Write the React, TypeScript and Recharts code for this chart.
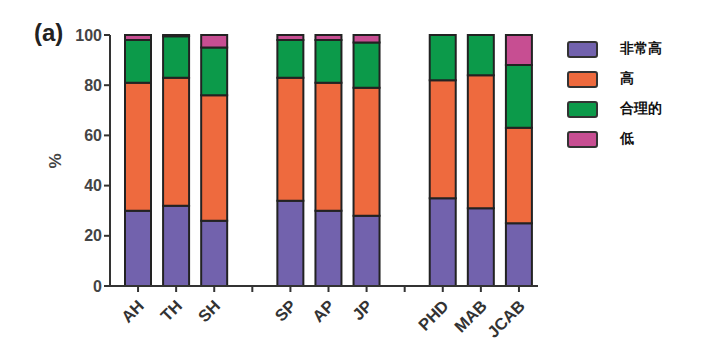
import React from 'react';
import { BarChart, Bar, XAxis, YAxis } from 'recharts';

const categories = ['AH', 'TH', 'SH', '', 'SP', 'AP', 'JP', ' ', 'PHD', 'MAB', 'JCAB'];
const veryHigh = [30, 32, 26, null, 34, 30, 28, null, 35, 31, 25];
const high = [51, 51, 50, null, 49, 51, 51, null, 47, 53, 38];
const reasonable = [17, 16.5, 19, null, 15, 17, 18, null, 18, 16, 25];
const low = [2, 0.5, 5, null, 2, 2, 3, null, 0, 0, 12];
const seriesNames = ['非常高', '高', '合理的', '低'];
const seriesColors = ['#7262ad', '#ee6a3e', '#0c9a4a', '#c74e92'];
const yTicks = [0, 20, 40, 60, 80, 100];

const data = categories.map((c, i) => ({
  name: c,
  s0: veryHigh[i],
  s1: high[i],
  s2: reasonable[i],
  s3: low[i],
}));

const font = 'Arial, "Liberation Sans", sans-serif';

const XTick = (props: any) => {
  const { x, y, payload } = props;
  return (
    <text
      x={x + 7}
      y={y + 13}
      textAnchor="end"
      transform={`rotate(-45, ${x + 7}, ${y + 13})`}
      fontSize={16.5}
      fontWeight="bold"
      fontFamily={font}
      fill="#333"
    >
      {payload.value.trim()}
    </text>
  );
};

const LegendBox = () => (
  <div style={{ position: 'absolute', left: 567, top: 34, fontFamily: font }}>
    {seriesNames.map((n, i) => (
      <div key={n} style={{ display: 'flex', alignItems: 'center', height: 30 }}>
        <div
          style={{
            width: 27,
            height: 13,
            background: seriesColors[i],
            border: '2.5px solid #333',
            borderRadius: 3,
            marginRight: 22,
          }}
        />
        <span style={{ fontSize: 14, fontWeight: 'bold', color: '#111' }}>{n}</span>
      </div>
    ))}
  </div>
);

export default function App() {
  return (
    <div style={{ position: 'fixed', left: 0, top: 0, width: 717, height: 362, background: '#fff' }}>
      <BarChart
        width={717}
        height={362}
        data={data}
        margin={{ top: 35, right: 179, bottom: 0, left: 0 }}
        barSize={26}
      >
        <XAxis
          dataKey="name"
          height={76}
          padding={{ left: 9, right: 0 }}
          interval={0}
          tick={<XTick />}
          tickLine={{ stroke: '#333', strokeWidth: 2 }}
          tickSize={6}
          axisLine={{ stroke: '#333', strokeWidth: 2 }}
        />
        <YAxis
          width={110}
          domain={[0, 100]}
          ticks={yTicks}
          interval={0}
          tickSize={6}
          tickLine={{ stroke: '#333', strokeWidth: 2 }}
          axisLine={{ stroke: '#333', strokeWidth: 2 }}
          tick={{ fontSize: 16, fontWeight: 'bold', fill: '#444', fontFamily: font }}
        />
        {['s0', 's1', 's2', 's3'].map((k, i) => (
          <Bar
            key={k}
            dataKey={k}
            name={seriesNames[i]}
            stackId="a"
            fill={seriesColors[i]}
            stroke="#222"
            strokeWidth={2}
            isAnimationActive={false}
          />
        ))}
      </BarChart>
      <LegendBox />
      <div
        style={{
          position: 'absolute',
          left: 34,
          top: 19,
          fontFamily: font,
          fontWeight: 'bold',
          fontSize: 24,
          color: '#222',
        }}
      >
        (a)
      </div>
      <div
        style={{
          position: 'absolute',
          left: 48,
          top: 151,
          fontFamily: font,
          fontWeight: 'bold',
          fontSize: 17,
          color: '#444',
          transform: 'rotate(-90deg)',
        }}
      >
        %
      </div>
    </div>
  );
}
